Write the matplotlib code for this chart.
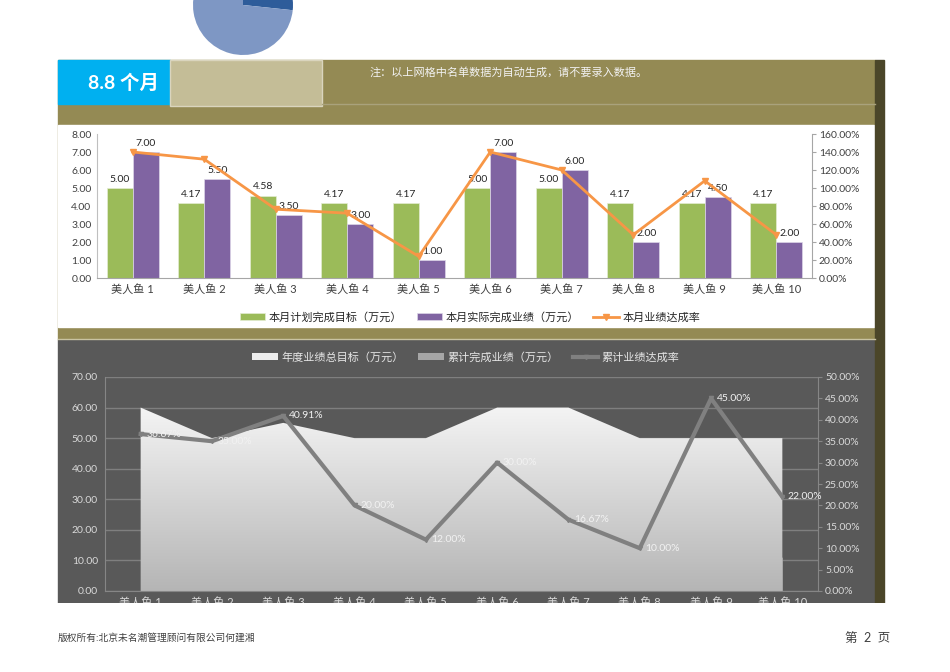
import matplotlib.pyplot as plt
import matplotlib as mpl
import numpy as np
from matplotlib.patches import Rectangle, Patch
from matplotlib.lines import Line2D
from matplotlib.colors import LinearSegmentedColormap
import matplotlib.ticker as mtick

# Datos del cuadro
categorias = ['美人鱼 1', '美人鱼 2', '美人鱼 3', '美人鱼 4', '美人鱼 5',
              '美人鱼 6', '美人鱼 7', '美人鱼 8', '美人鱼 9', '美人鱼 10']
meta_mes = [5.00, 4.17, 4.58, 4.17, 4.17, 5.00, 5.00, 4.17, 4.17, 4.17]
real_mes = [7.00, 5.50, 3.50, 3.00, 1.00, 7.00, 6.00, 2.00, 4.50, 2.00]
tasa_mes = [1.40, 1.32, 0.764, 0.72, 0.24, 1.40, 1.20, 0.48, 1.08, 0.48]
meta_anual = [60, 50, 55, 50, 50, 60, 60, 50, 50, 50]
real_acum = [22.0, 17.5, 22.5, 10.0, 6.0, 18.0, 10.0, 5.0, 22.5, 11.0]
tasa_acum = [0.3667, 0.35, 0.4091, 0.20, 0.12, 0.30, 0.1667, 0.10, 0.45, 0.22]
meses = 8.8
pie_vals = [12 - meses, meses]

mpl.rcParams['font.family'] = ['Lato', 'Noto Sans CJK SC', 'DejaVu Sans']

W, H = 950, 672


def caja(x0, y0, x1, y1):
    # posición en píxeles -> coordenadas de figura
    return [x0 / W, 1 - y1 / H, (x1 - x0) / W, (y1 - y0) / H]


fig = plt.figure(figsize=(9.5, 6.72), dpi=100)

# Fondo de la hoja
fondo = fig.add_axes([0, 0, 1, 1], zorder=-10)
fondo.set_xlim(0, W)
fondo.set_ylim(H, 0)
fondo.axis('off')
fondo.add_patch(Rectangle((58, 60), 817, 280, color='#948A54'))
fondo.add_patch(Rectangle((58, 60), 112, 44, color='#00B0F0'))
fondo.add_patch(Rectangle((170, 60), 152, 46, facecolor='#C4BD97',
                          edgecolor='#DAD5BE', lw=1))
fondo.plot([322, 875], [104, 104], color='#A9A27C', lw=1)
fondo.add_patch(Rectangle((58, 125), 816, 202, color='white'))
fondo.plot([58, 875], [339, 339], color='#C9C3A2', lw=1)
fondo.add_patch(Rectangle((58, 340), 817, 263, color='#595959'))
fondo.add_patch(Rectangle((875, 60), 9, 543, color='#4B4629'))
fondo.text(123, 83, '8.8 个月', color='white', fontsize=14,
           fontweight='bold', ha='center', va='center')
fondo.text(370, 72, '注：以上网格中名单数据为自动生成，请不要录入数据。',
           color='#F2F2F2', fontsize=8, ha='left', va='center')

# Gráfico de tarta (parcialmente fuera de la hoja)
ax_pie = fig.add_axes(caja(193, -45, 293, 55))
ax_pie.pie(pie_vals, colors=['#2E5C9A', '#7E97C4'], startangle=90,
           counterclock=False, wedgeprops=dict(linewidth=0))
ax_pie.set_xlim(-1, 1)
ax_pie.set_ylim(-1, 1)
ax_pie.set_aspect('equal')

x = np.arange(len(categorias))
ancho = 0.365

# ---- Gráfico superior ----
ax1 = fig.add_axes(caja(97, 134, 812, 278))
ax1.set_facecolor('none')
b1 = ax1.bar(x - ancho / 2, meta_mes, ancho, color='#9BBB59',
             edgecolor='#E4ECD3', lw=0.5, label='本月计划完成目标（万元）')
b2 = ax1.bar(x + ancho / 2, real_mes, ancho, color='#8064A2',
             edgecolor='#DDD5E8', lw=0.5, label='本月实际完成业绩（万元）')
for barras, vals in ((b1, meta_mes), (b2, real_mes)):
    for r, v in zip(barras, vals):
        ax1.annotate(f'{v:.2f}', (r.get_x() + r.get_width() / 2, v),
                     xytext=(0, 3), textcoords='offset points',
                     ha='center', va='bottom', fontsize=7.5, color='#262626')
ax1.set_xlim(-0.5, 9.5)
ax1.set_ylim(0, 8)
ax1.set_yticks(np.arange(0, 8.1, 1))
ax1.yaxis.set_major_formatter(mtick.FormatStrFormatter('%.2f'))
ax1.set_xticks(x)
ax1.set_xticklabels(categorias)
ax1.tick_params(axis='y', length=0, labelsize=7.5, labelcolor='#404040', pad=4)
ax1.tick_params(axis='x', length=0, labelsize=8, labelcolor='#404040', pad=4)
for s in ('top', 'right'):
    ax1.spines[s].set_visible(False)
ax1.spines['left'].set_color('#BFBFBF')
ax1.spines['bottom'].set_color('#A6A6A6')

ax2 = ax1.twinx()
l1, = ax2.plot(x, tasa_mes, color='#F79646', lw=2, marker='v', ms=4,
               label='本月业绩达成率')
ax2.set_ylim(0, 1.6)
ax2.set_yticks(np.arange(0, 1.61, 0.2))
ax2.yaxis.set_major_formatter(mtick.PercentFormatter(1.0, decimals=2))
ax2.tick_params(axis='y', length=3, color='#A6A6A6', labelsize=7.5,
                labelcolor='#404040', pad=2)
for s in ('top', 'left', 'bottom'):
    ax2.spines[s].set_visible(False)
ax2.spines['right'].set_color('#A6A6A6')

fig.legend(handles=[b1, b2, l1], loc='center',
           bbox_to_anchor=(470 / W, 1 - 317 / H), ncol=3, frameon=False,
           fontsize=8, handlelength=2.3, handleheight=0.6,
           columnspacing=1.3, handletextpad=0.3, labelcolor='#262626')

# ---- Gráfico inferior ----
ax3 = fig.add_axes(caja(105, 377, 818, 591))
ax3.set_facecolor('none')
ax3.fill_between(x, 0, real_acum, color='#A6A6A6', lw=0, zorder=1.5)
poly = ax3.fill_between(x, 0, meta_anual, color='none', lw=0, zorder=2)
degradado = np.linspace(0, 1, 256).reshape(-1, 1)
cmap = LinearSegmentedColormap.from_list('gris', ['#B5B5B5', '#F4F4F4'])
img = ax3.imshow(degradado, cmap=cmap, origin='lower', aspect='auto',
                 extent=[-0.5, 9.5, 0, max(meta_anual)], zorder=2)
img.set_clip_path(poly.get_paths()[0], ax3.transData)
ax3.set_xlim(-0.5, 9.5)
ax3.set_ylim(0, 70)
ax3.set_yticks(np.arange(0, 71, 10))
ax3.yaxis.set_major_formatter(mtick.FormatStrFormatter('%.2f'))
ax3.yaxis.grid(True, color='#7F7F7F', lw=1)
ax3.set_axisbelow(True)
ax3.set_xticks(x)
ax3.set_xticklabels(categorias)
ax3.tick_params(axis='y', length=0, labelsize=7.5, labelcolor='#D9D9D9', pad=5)
ax3.tick_params(axis='x', length=0, labelsize=8, labelcolor='#D9D9D9', pad=4)
for s in ('top', 'right'):
    ax3.spines[s].set_visible(False)
ax3.spines['left'].set_color('#868686')
ax3.spines['bottom'].set_color('#868686')

ax4 = ax3.twinx()
ax4.plot(x, tasa_acum, color='#808080', lw=3, marker='v', ms=3)
for xi, v in zip(x, tasa_acum):
    ax4.annotate(f'{v:.2%}', (xi, v), xytext=(4, 0), textcoords='offset points',
                 ha='left', va='center', fontsize=7.5, color='#F2F2F2')
ax4.set_ylim(0, 0.5)
ax4.set_yticks(np.arange(0, 0.51, 0.05))
ax4.yaxis.set_major_formatter(mtick.PercentFormatter(1.0, decimals=2))
ax4.tick_params(axis='y', length=3, color='#868686', labelsize=7.5,
                labelcolor='#D9D9D9', pad=2)
for s in ('top', 'left', 'bottom'):
    ax4.spines[s].set_visible(False)
ax4.spines['right'].set_color('#868686')

h_bajo = [Patch(facecolor='#EDEDED', label='年度业绩总目标（万元）'),
          Patch(facecolor='#A6A6A6', label='累计完成业绩（万元）'),
          Line2D([], [], color='#808080', lw=3, marker='v', ms=3,
                 label='累计业绩达成率')]
fig.legend(handles=h_bajo, loc='center', bbox_to_anchor=(466 / W, 1 - 357 / H),
           ncol=3, frameon=False, fontsize=8, handlelength=2.3,
           handleheight=0.6, columnspacing=1.3, handletextpad=0.3,
           labelcolor='#E6E6E6')

# Pie de página (tapa el borde recortado del gráfico)
tapa = fig.add_axes(caja(0, 603, W, H), zorder=20)
tapa.set_xlim(0, W)
tapa.set_ylim(H, 603)
tapa.axis('off')
tapa.add_patch(Rectangle((0, 603), W, H - 603, color='white'))
tapa.text(58, 638, '版权所有:北京未名潮管理顾问有限公司何建湘', fontsize=7,
          color='#404040', ha='left', va='center')
tapa.text(890, 638, '第  2  页', fontsize=9, color='#404040',
          ha='right', va='center')

fig.savefig('out.png', dpi=100)
